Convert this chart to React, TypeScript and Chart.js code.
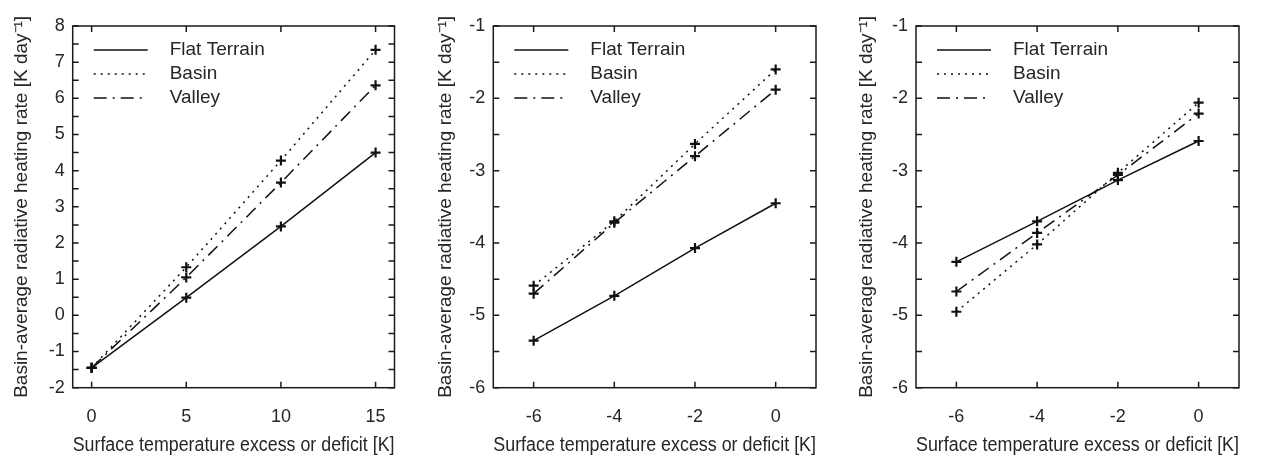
import React, { useEffect, useRef } from 'react';
import { Chart, registerables } from 'chart.js';

Chart.register(...registerables);

// ---------- data ----------
const seriesNames = ['Flat Terrain', 'Basin', 'Valley'];

// Panel 1
const p1X = [0, 5, 10, 15];
const p1Flat = [-1.45, 0.49, 2.46, 4.5];
const p1Basin = [-1.45, 1.33, 4.28, 7.34];
const p1Valley = [-1.45, 1.05, 3.67, 6.36];
const p1XTicks = [0, 5, 10, 15];
const p1YTicks = [-2, -1, 0, 1, 2, 3, 4, 5, 6, 7, 8];

// Panel 2
const p2X = [-6, -4, -2, 0];
const p2Flat = [-5.35, -4.73, -4.07, -3.45];
const p2Basin = [-4.59, -3.7, -2.63, -1.6];
const p2Valley = [-4.7, -3.72, -2.8, -1.88];
const p2XTicks = [-6, -4, -2, 0];
const p2YTicks = [-6, -5, -4, -3, -2, -1];

// Panel 3
const p3X = [-6, -4, -2, 0];
const p3Flat = [-4.26, -3.7, -3.13, -2.59];
const p3Basin = [-4.95, -4.02, -3.03, -2.06];
const p3Valley = [-4.67, -3.86, -3.06, -2.21];
const p3XTicks = [-6, -4, -2, 0];
const p3YTicks = [-6, -5, -4, -3, -2, -1];

const xTitle = 'Surface temperature excess or deficit [K]';
const yTitle = 'Basin-average radiative heating rate [K day\u207B\u00B9]';

// ---------- styling ----------
const FONT = "'Liberation Sans', Arial, Helvetica, sans-serif";
const TEXT = '#262626';
const LINE = '#111111';
const dashes: number[][] = [[], [2, 5], [13, 6, 2, 6]];
const X_TITLE_SIZE = 20;
const Y_TITLE_SIZE = 19;
const TICK_SIZE = 18;

type PanelDef = {
  left: number;
  width: number;
  xs: number[];
  series: number[][];
  xMin: number;
  xMax: number;
  yMin: number;
  yMax: number;
  xTicks: number[];
  yTicks: number[];
  yAxisWidth: number;
  padRight: number;
  yTitleCenter: number;
};

const panels: PanelDef[] = [
  {
    left: 0, width: 420, xs: p1X, series: [p1Flat, p1Basin, p1Valley],
    xMin: -1, xMax: 16, yMin: -2, yMax: 8, xTicks: p1XTicks, yTicks: p1YTicks,
    yAxisWidth: 72.7, padRight: 25.5, yTitleCenter: 22,
  },
  {
    left: 420, width: 420, xs: p2X, series: [p2Flat, p2Basin, p2Valley],
    xMin: -7, xMax: 1, yMin: -6, yMax: -1, xTicks: p2XTicks, yTicks: p2YTicks,
    yAxisWidth: 73.3, padRight: 24, yTitleCenter: 25.7,
  },
  {
    left: 840, width: 427, xs: p3X, series: [p3Flat, p3Basin, p3Valley],
    xMin: -7, xMax: 1, yMin: -6, yMax: -1, xTicks: p3XTicks, yTicks: p3YTicks,
    yAxisWidth: 76, padRight: 28, yTitleCenter: 27,
  },
];

const CHART_TOP = 26;
const CHART_BOTTOM = 387.7;
const HEIGHT = 456;

const framePlugin = {
  id: 'frame',
  afterDraw(chart: any, _args: any, opts: any) {
    const { ctx, chartArea: a, scales } = chart;
    const x = scales.x;
    const y = scales.y;
    ctx.save();
    ctx.strokeStyle = '#1a1a1a';
    ctx.lineWidth = 1.5;
    ctx.setLineDash([]);
    ctx.strokeRect(a.left, a.top, a.right - a.left, a.bottom - a.top);
    const tl = 6;
    ctx.beginPath();
    for (const v of opts.xTicks as number[]) {
      const px = x.getPixelForValue(v);
      ctx.moveTo(px, a.bottom);
      ctx.lineTo(px, a.bottom - tl);
      ctx.moveTo(px, a.top);
      ctx.lineTo(px, a.top + tl);
    }
    const yt = opts.yTicks as number[];
    const yAll: number[] = [];
    for (let i = 0; i < yt.length; i++) {
      yAll.push(yt[i]);
      if (i < yt.length - 1) yAll.push((yt[i] + yt[i + 1]) / 2);
    }
    for (const v of yAll) {
      const py = y.getPixelForValue(v);
      ctx.moveTo(a.left, py);
      ctx.lineTo(a.left + tl, py);
      ctx.moveTo(a.right, py);
      ctx.lineTo(a.right - tl, py);
    }
    ctx.stroke();

    // legend
    chart.data.datasets.forEach((ds: any, i: number) => {
      const ly = a.top + 24 + 24 * i;
      ctx.beginPath();
      ctx.strokeStyle = LINE;
      ctx.lineWidth = 1.5;
      ctx.setLineDash(ds.borderDash || []);
      ctx.moveTo(a.left + 21, ly);
      ctx.lineTo(a.left + 75, ly);
      ctx.stroke();
      ctx.setLineDash([]);
      ctx.fillStyle = TEXT;
      ctx.font = `19px ${FONT}`;
      ctx.textBaseline = 'middle';
      ctx.textAlign = 'left';
      ctx.fillText(ds.label, a.left + 97, ly);
    });
    ctx.restore();
  },
};

function Panel({ def }: { def: PanelDef }) {
  const ref = useRef<HTMLCanvasElement | null>(null);
  useEffect(() => {
    if (!ref.current) return;
    const datasets = def.series.map((ys, i) => ({
      label: seriesNames[i],
      data: def.xs.map((x, j) => ({ x, y: ys[j] })),
      borderColor: LINE,
      backgroundColor: LINE,
      borderWidth: 1.5,
      borderDash: dashes[i],
      pointStyle: 'cross',
      pointRadius: 5,
      pointBorderWidth: 2.2,
      pointBorderColor: LINE,
      pointBackgroundColor: LINE,
      tension: 0,
      fill: false,
    }));
    const titleLH = Y_TITLE_SIZE * 1.2;
    const chart = new Chart(ref.current, {
      type: 'line',
      data: { datasets } as any,
      options: {
        animation: false,
        responsive: false,
        maintainAspectRatio: false,
        devicePixelRatio: 1,
        layout: { padding: { top: CHART_TOP, right: def.padRight, left: 0, bottom: 0 } },
        plugins: {
          legend: { display: false },
          tooltip: { enabled: false },
          frame: { xTicks: def.xTicks, yTicks: def.yTicks },
        } as any,
        scales: {
          x: {
            type: 'linear',
            min: def.xMin,
            max: def.xMax,
            grid: { display: false, drawTicks: false, tickLength: 0 },
            border: { display: false },
            afterBuildTicks: (s: any) => {
              s.ticks = def.xTicks.map((v) => ({ value: v }));
            },
            afterFit: (s: any) => {
              s.height = HEIGHT - CHART_BOTTOM;
            },
            ticks: {
              font: { family: FONT, size: TICK_SIZE },
              color: TEXT,
              padding: 19,
              maxRotation: 0,
              autoSkip: false,
              callback: (v: any) => String(v),
            },
            title: {
              display: true,
              text: xTitle,
              font: { family: FONT, size: X_TITLE_SIZE },
              color: TEXT,
              padding: { top: 0, bottom: -1.5 },
            },
          },
          y: {
            type: 'linear',
            min: def.yMin,
            max: def.yMax,
            grid: { display: false, drawTicks: false, tickLength: 0 },
            border: { display: false },
            afterBuildTicks: (s: any) => {
              s.ticks = def.yTicks.map((v) => ({ value: v }));
            },
            afterFit: (s: any) => {
              s.width = def.yAxisWidth;
            },
            ticks: {
              font: { family: FONT, size: TICK_SIZE },
              color: TEXT,
              padding: 8,
              autoSkip: false,
              callback: (v: any) => String(v),
            },
            title: {
              display: true,
              text: yTitle,
              font: { family: FONT, size: Y_TITLE_SIZE },
              color: TEXT,
              padding: { top: def.yTitleCenter - titleLH / 2, bottom: 0 },
            },
          },
        },
      } as any,
      plugins: [framePlugin as any],
    });
    return () => chart.destroy();
  }, [def]);
  return (
    <canvas
      ref={ref}
      width={def.width}
      height={HEIGHT}
      style={{ position: 'absolute', left: def.left, top: 0, width: def.width, height: HEIGHT }}
    />
  );
}

export default function App() {
  return (
    <div style={{ position: 'fixed', left: 0, top: 0, width: 1267, height: HEIGHT, background: '#fff' }}>
      {panels.map((p, i) => (
        <Panel key={i} def={p} />
      ))}
    </div>
  );
}
